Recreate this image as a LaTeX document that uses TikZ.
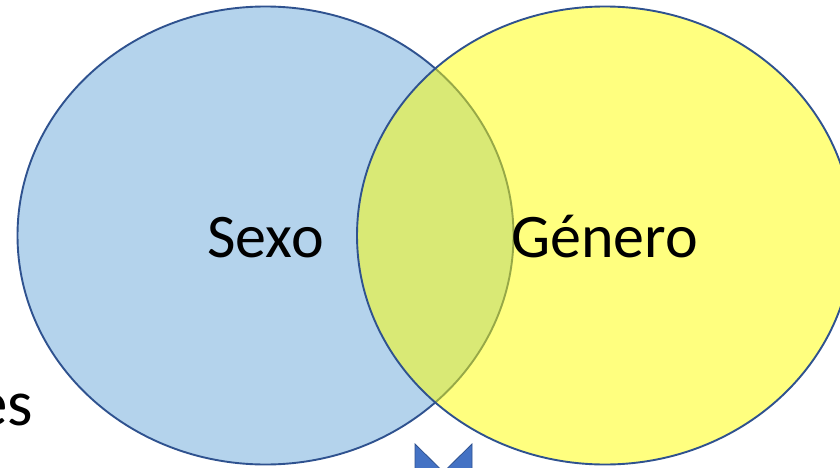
\documentclass[tikz,border=0pt]{standalone}
\usepackage{fontspec}
\setmainfont{Carlito}
\definecolor{lblue}{RGB}{180,211,236}
\definecolor{edgeblue}{RGB}{47,82,143}
\definecolor{chev}{RGB}{68,114,196}
\definecolor{vyellow}{RGB}{255,255,0}
\begin{document}
\begin{tikzpicture}[x=1pt,y=-1pt,
  venn/.style={draw=edgeblue,line width=1.9pt},
  lbl/.style={font=\fontsize{62}{70}\selectfont,inner sep=0pt,anchor=base}]
\useasboundingbox (0,0) rectangle (840,468);
\clip (0,0) rectangle (840,468);
\fill[white] (0,0) rectangle (840,468);
% left circle
\filldraw[venn,fill=lblue] (265.5,235.5) ellipse [x radius=248, y radius=229];
% right circle (semi-transparent yellow)
\fill[vyellow,fill opacity=0.5] (605,235.5) ellipse [x radius=248, y radius=229];
\draw[venn] (605,235.5) ellipse [x radius=248, y radius=229];
% labels
\node[lbl] (sexo) at (265.5,257) {Sexo};
\node[lbl] (genero) at (604.5,257) {Género};
\node[font=\fontsize{65}{70}\selectfont,inner sep=0pt,anchor=base east] (es) at (33,425) {es};
% chevron at bottom
\filldraw[fill=chev,draw=edgeblue,line width=0.8pt]
  (415,444) -- (443.5,472) -- (472,444) -- (472,500) -- (443.5,528) -- (415,500) -- cycle;
\end{tikzpicture}
\end{document}
